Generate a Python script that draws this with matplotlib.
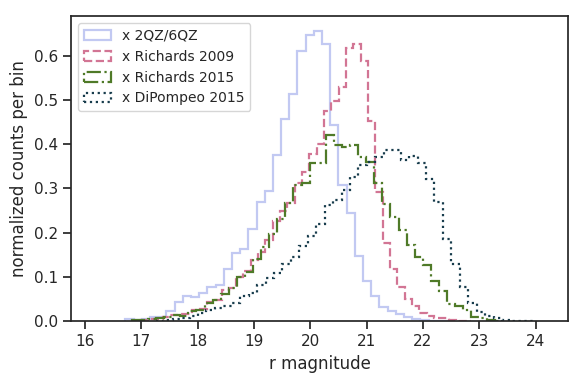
import numpy as np
import matplotlib
matplotlib.use("Agg")
import matplotlib.pyplot as plt
import seaborn as sns

# --- data ---
labels = ["x 2QZ/6QZ", "x Richards 2009", "x Richards 2015", "x DiPompeo 2015"]

qz_start, qz_width = 16.716, 0.1455
qz_vals = [0.004, 0.002, 0.005, 0.010, 0.010, 0.022, 0.043, 0.057, 0.055, 0.063,
           0.076, 0.081, 0.117, 0.155, 0.164, 0.208, 0.269, 0.295, 0.375, 0.458,
           0.514, 0.612, 0.647, 0.657, 0.627, 0.444, 0.307, 0.245, 0.147, 0.091,
           0.057, 0.031, 0.022, 0.016, 0.010, 0.005, 0.002, 0.001, 0.001, 0.001]

r09_start, r09_width = 16.99, 0.1302
r09_vals = [0.002, 0.004, 0.005, 0.008, 0.013, 0.015, 0.017, 0.025, 0.028, 0.043,
            0.048, 0.070, 0.074, 0.100, 0.114, 0.138, 0.156, 0.183, 0.226, 0.250,
            0.266, 0.312, 0.337, 0.377, 0.400, 0.476, 0.497, 0.530, 0.618, 0.627,
            0.589, 0.452, 0.292, 0.177, 0.118, 0.078, 0.050, 0.033, 0.019, 0.011,
            0.007, 0.006, 0.002, 0.001, 0.001]

r15_start, r15_width = 16.83, 0.1435
r15_vals = [0.002, 0.003, 0.004, 0.007, 0.010, 0.013, 0.012, 0.022, 0.025, 0.040,
            0.048, 0.061, 0.075, 0.100, 0.112, 0.140, 0.168, 0.197, 0.232, 0.266,
            0.307, 0.313, 0.357, 0.357, 0.420, 0.398, 0.393, 0.399, 0.371, 0.361,
            0.312, 0.265, 0.235, 0.206, 0.171, 0.144, 0.126, 0.090, 0.069, 0.038,
            0.034, 0.025, 0.010, 0.007, 0.002, 0.001]

dp_start, dp_width = 17.254, 0.15
dp_vals = [0.001, 0.002, 0.004, 0.006, 0.011, 0.018, 0.024, 0.030, 0.035, 0.041,
           0.057, 0.064, 0.082, 0.097, 0.109, 0.129, 0.146, 0.170, 0.192, 0.220,
           0.263, 0.274, 0.297, 0.327, 0.354, 0.360, 0.371, 0.386, 0.387, 0.364,
           0.374, 0.357, 0.322, 0.269, 0.186, 0.129, 0.076, 0.041, 0.020, 0.011,
           0.006, 0.002, 0.001, 0.001, 0.001]

series = [(qz_start, qz_width, qz_vals),
          (r09_start, r09_width, r09_vals),
          (r15_start, r15_width, r15_vals),
          (dp_start, dp_width, dp_vals)]

colors = ["#c2c9f2", "#d27594", "#4f7a28", "#173c4c"]
styles = ["-", "--", "-.", ":"]

sns.set_theme(context="notebook", style="ticks")
plt.rcParams['font.family'] = ['DejaVu Sans']

fig = plt.figure(figsize=(5.84, 3.84), dpi=100)
ax = fig.add_axes([0.1216, 0.164, 0.851, 0.794])

for (start, width, vals), c, ls, lab in zip(series, colors, styles, labels):
    vals = np.asarray(vals)
    edges = start + width * np.arange(len(vals) + 1)
    centers = 0.5 * (edges[:-1] + edges[1:])
    ax.hist(centers, bins=edges, weights=vals, histtype="step",
            color=c, linestyle=ls, linewidth=1.6, label=lab)

ax.set_xlim(15.75, 24.575)
ax.set_ylim(0, 0.69)
ax.set_xticks(np.arange(16, 25, 1))
ax.set_yticks(np.arange(0, 0.61, 0.1))
ax.set_xlabel("r magnitude", fontsize=12)
ax.set_ylabel("normalized counts per bin", fontsize=12)
ax.tick_params(labelsize=11)
ax.legend(loc="upper left", fontsize=10)

fig.savefig("out.png", dpi=100)
